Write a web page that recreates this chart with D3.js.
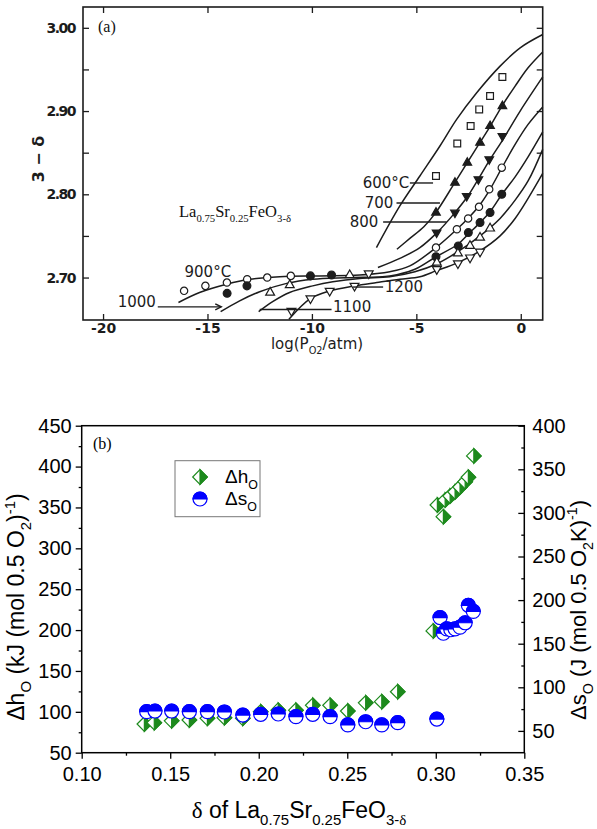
<!DOCTYPE html>
<html>
<head>
<meta charset="utf-8">
<script src="https://cdn.jsdelivr.net/npm/d3@7"></script>
<style>
  body { margin: 0; background: #fff; }
  svg { display: block; }
</style>
</head>
<body>
<svg id="chart" width="597" height="829"></svg>
<script>
// ---- panel (a): 3-delta vs log(PO2)
var curve600 = [[-6.91,2.736],[-5.79,2.786],[-4.83,2.822],[-3.87,2.858],[-3.07,2.890],[-2.11,2.922],[-0.99,2.954],[-0.03,2.976],[1.05,2.992]];
var curve700 = [[-5.93,2.734],[-5.31,2.747],[-4.64,2.761],[-4.07,2.778],[-3.16,2.814],[-2.59,2.837],[-1.96,2.862],[-1.48,2.881],[-0.90,2.906],[-0.27,2.930],[0.35,2.952],[1.05,2.971]];
var curve800 = [[-6.84,2.712],[-5.79,2.723],[-4.83,2.736],[-4.01,2.754],[-3.15,2.778],[-2.56,2.797],[-2.04,2.818],[-1.47,2.842],[-0.90,2.864],[-0.03,2.900],[1.05,2.941]];
var curve900 = [[-16.39,2.670],[-15.38,2.682],[-14.09,2.692],[-12.98,2.698],[-11.54,2.701],[-9.63,2.702],[-7.71,2.703],[-6.27,2.707],[-5.31,2.714],[-4.06,2.736],[-3.06,2.758],[-2.53,2.771],[-2.00,2.786],[-1.47,2.806],[-0.90,2.832],[-0.27,2.860],[0.35,2.884],[1.05,2.905]];
var curve1000 = [[-14.37,2.659],[-13.46,2.672],[-12.50,2.683],[-11.21,2.693],[-9.96,2.698],[-8.19,2.700],[-6.27,2.702],[-5.07,2.710],[-4.06,2.725],[-3.01,2.740],[-2.48,2.753],[-1.95,2.766],[-1.47,2.779],[-0.90,2.800],[-0.27,2.821],[0.35,2.845],[1.05,2.875]];
var curve1100 = [[-12.55,2.659],[-11.88,2.671],[-11.07,2.682],[-9.96,2.690],[-9.00,2.695],[-7.71,2.699],[-6.27,2.701],[-5.07,2.707],[-4.06,2.716],[-3.01,2.731],[-1.95,2.750],[-0.99,2.771],[-0.27,2.793],[0.35,2.816],[1.05,2.854]];
var curve1200 = [[-11.10,2.650],[-10.06,2.675],[-9.15,2.684],[-7.95,2.690],[-6.89,2.694],[-5.79,2.698],[-4.83,2.701],[-4.06,2.708],[-3.01,2.718],[-1.95,2.732],[-0.99,2.750],[-0.27,2.771],[0.35,2.795],[1.05,2.825]];

var pts600 = [[-4.06,2.822],[-3.04,2.861],[-2.40,2.882],[-1.99,2.902],[-1.47,2.918],[-0.88,2.941]];
var pts700 = [[-4.06,2.778],[-3.15,2.814],[-2.56,2.838],[-1.95,2.862],[-1.47,2.882],[-0.88,2.906]];
var pts800 = [[-4.03,2.754],[-3.15,2.778],[-2.59,2.798],[-2.03,2.818],[-1.51,2.842],[-0.88,2.870]];
var pts900 = [[-16.12,2.684],[-15.10,2.690],[-14.07,2.694],[-13.10,2.698],[-12.14,2.700],[-11.01,2.702],[-4.06,2.736],[-3.06,2.758],[-2.52,2.771],[-2.00,2.785],[-1.51,2.806],[-0.91,2.832]];
var pts1000 = [[-14.06,2.681],[-13.11,2.690],[-10.07,2.702],[-9.06,2.703],[-4.06,2.725],[-2.99,2.738],[-2.51,2.754],[-1.95,2.766],[-1.47,2.778],[-0.91,2.800]];
var pts1100 = [[-12.00,2.682],[-11.06,2.691],[-8.19,2.703],[-4.02,2.718],[-3.01,2.729],[-2.43,2.738],[-1.95,2.748],[-1.47,2.759]];
var pts1200 = [[-10.98,2.660],[-10.07,2.675],[-9.15,2.684],[-7.96,2.690],[-7.28,2.705],[-4.02,2.710],[-3.01,2.717],[-2.43,2.724],[-1.95,2.731]];

var xTicksA = [-20, -15, -10, -5, 0];
var yTicksA = [2.70, 2.75, 2.80, 2.85, 2.90, 2.95, 3.00];

// temperature labels: text start (x, y) and leader line x-range, in data units
var tempLabels = [
  { t: '600°C', x: -7.57, y: 2.8136, lead: [-5.31, -4.20] },
  { t: '700',   x: -7.47, y: 2.7896, lead: [-5.95, -3.87] },
  { t: '800',   x: -8.19, y: 2.7668, lead: [-6.59, -3.55] },
  { t: '900°C', x: -16.10, y: 2.7076, lead: null },
  { t: '1000',  x: -19.30, y: 2.6716, lead: [-17.38, -14.34], ly: 2.6648, arrow: true },
  { t: '1100',  x: -8.99, y: 2.6648, lead: [-12.50, -9.06], ly: 2.6616 },
  { t: '1200',  x: -6.51, y: 2.6896, lead: [-8.03, -6.59], ly: 2.6886 }
];

// ---- panel (b): partial molar enthalpy / entropy vs delta
var deltaH = [0.1354,0.141,0.1508,0.1608,0.171,0.1806,0.191,0.2011,0.211,0.221,0.2305,0.2403,0.2503,0.2604,0.2695,0.2785,0.2986,0.3009,0.3043,0.3053,0.3081,0.3109,0.3137,0.3166,0.3184,0.3215];
var hVals  = [85.1,86.7,89,90,92,92.8,92,100,102,102,108,108,101,111,112.4,124.6,199,353,338.7,359,364,369,375,381.5,387,413];
var deltaS = [0.1367,0.1414,0.1508,0.1608,0.171,0.1806,0.191,0.2011,0.211,0.221,0.2305,0.2403,0.2503,0.2604,0.2695,0.2785,0.3006,0.3024,0.3043,0.3062,0.3085,0.3109,0.3137,0.3166,0.3184,0.3212];
var sVals  = [72,72.8,72.8,72,72,71.7,68.2,69,69.4,66.3,69,66.3,56.8,60.5,56.8,59.4,63.6,180,162,167,166,167,169,174,194,187];

var xTicksB = [0.10, 0.15, 0.20, 0.25, 0.30, 0.35];
var xMinorB = [0.125, 0.175, 0.225, 0.275, 0.325];
var hTicks = [50, 100, 150, 200, 250, 300, 350, 400, 450];
var hMinor = [75, 125, 175, 225, 275, 325, 375, 425];
var sTicks = [50, 100, 150, 200, 250, 300, 350, 400];
var sMinor = [75, 125, 175, 225, 275, 325, 375];

var svg = d3.select('#chart');
var ink = '#1c1c1c';
var green = '#1d8a1d';
var blue = '#0000ff';

// append tspans with sub/superscripts; parts = [text, 'sub'|'sup'|null, fontFamily]
function rich(textSel, parts, size) {
  var shift = 0;
  parts.forEach(function (p) {
    var off = p[1] === 'sub' ? size * 0.3 : (p[1] === 'sup' ? -size * 0.4 : 0);
    var ts = textSel.append('tspan').attr('dy', off - shift).text(p[0]);
    if (p[1]) ts.attr('font-size', size * 0.65);
    if (p[2]) ts.attr('font-family', p[2]);
    shift = off;
  });
}

function noDomain(g) { g.select('.domain').remove(); }

// ================= panel (a)
var xA = d3.scaleLinear().domain([-20.96, 1.05]).range([83, 542.7]);
var yA = d3.scaleLinear().domain([2.649, 3.025]).range([320, 7]);
var ga = svg.append('g');

ga.append('rect')
  .attr('x', xA.range()[0]).attr('y', yA.range()[1])
  .attr('width', xA.range()[1] - xA.range()[0])
  .attr('height', yA.range()[0] - yA.range()[1])
  .attr('fill', 'none').attr('stroke', ink).attr('stroke-width', 1.6);

var axA = [
  ga.append('g').attr('transform', 'translate(0,' + yA.range()[0] + ')')
    .call(d3.axisBottom(xA).tickValues(xTicksA).tickSize(-6).tickPadding(3).tickFormat(function (d) { return String(d); })),
  ga.append('g').attr('transform', 'translate(0,' + yA.range()[1] + ')')
    .call(d3.axisTop(xA).tickValues(xTicksA).tickSize(-6).tickFormat('')),
  ga.append('g').attr('transform', 'translate(' + xA.range()[0] + ',0)')
    .call(d3.axisLeft(yA).tickValues(yTicksA).tickSize(-6).tickPadding(8)
      .tickFormat(function (d) { return Math.round(d * 100) % 10 === 0 ? d.toFixed(2) : ''; })),
  ga.append('g').attr('transform', 'translate(' + xA.range()[1] + ',0)')
    .call(d3.axisRight(yA).tickValues(yTicksA).tickSize(-6).tickFormat(''))
];
axA.forEach(function (g) {
  g.call(noDomain);
  g.attr('font-family', 'DejaVu Sans').attr('font-size', 14).attr('font-weight', 'bold');
  g.selectAll('line').attr('stroke', ink).attr('stroke-width', 1.3);
  g.selectAll('text').attr('fill', ink);
});
axA[2].selectAll('text').attr('letter-spacing', -1.5);

var lineA = d3.line()
  .x(function (d) { return xA(d[0]); })
  .y(function (d) { return yA(d[1]); })
  .curve(d3.curveCatmullRom.alpha(0.5));

[curve600, curve700, curve800, curve900, curve1000, curve1100, curve1200].forEach(function (c) {
  ga.append('path').attr('d', lineA(c))
    .attr('fill', 'none').attr('stroke', ink).attr('stroke-width', 1.5);
});

var markSets = [
  { pts: pts600, type: d3.symbolSquare, size: 46, fill: '#fff', rot: 0 },
  { pts: pts700, type: d3.symbolTriangle, size: 32, fill: ink, rot: 0 },
  { pts: pts800, type: d3.symbolTriangle, size: 32, fill: ink, rot: 180 },
  { pts: pts900, type: d3.symbolCircle, size: 42, fill: '#fff', rot: 0 },
  { pts: pts1000, type: d3.symbolCircle, size: 48, fill: ink, rot: 0 },
  { pts: pts1100, type: d3.symbolTriangle, size: 34, fill: '#fff', rot: 0 },
  { pts: pts1200, type: d3.symbolTriangle, size: 34, fill: '#fff', rot: 180 }
];
markSets.forEach(function (m) {
  ga.append('g').selectAll('path').data(m.pts).enter().append('path')
    .attr('d', d3.symbol().type(m.type).size(m.size))
    .attr('transform', function (d) { return 'translate(' + xA(d[0]) + ',' + yA(d[1]) + ') rotate(' + m.rot + ')'; })
    .attr('fill', m.fill).attr('stroke', ink).attr('stroke-width', 1.2);
});

tempLabels.forEach(function (l) {
  ga.append('text').attr('x', xA(l.x)).attr('y', yA(l.y)).attr('dy', '0.36em')
    .attr('font-family', 'DejaVu Sans').attr('font-size', 15).attr('fill', ink)
    .text(l.t);
  if (l.lead) {
    var ly = yA(l.ly !== undefined ? l.ly : l.y);
    ga.append('line')
      .attr('x1', xA(l.lead[0])).attr('x2', xA(l.lead[1]))
      .attr('y1', ly).attr('y2', ly)
      .attr('stroke', ink).attr('stroke-width', 1.4);
    if (l.arrow) {
      var ax = xA(l.lead[1]);
      ga.append('path').attr('d', 'M' + (ax - 6) + ',' + (ly - 3) + 'L' + ax + ',' + ly + 'L' + (ax - 6) + ',' + (ly + 3))
        .attr('fill', 'none').attr('stroke', ink).attr('stroke-width', 1.4);
    }
  }
});

ga.append('text').attr('x', 98).attr('y', 32)
  .attr('font-family', 'Liberation Serif').attr('font-size', 16).attr('fill', '#111').text('(a)');

var formA = ga.append('text').attr('x', 179).attr('y', 217)
  .attr('font-family', 'Liberation Serif').attr('font-size', 16.5).attr('fill', '#111');
rich(formA, [['La'], ['0.75', 'sub'], ['Sr'], ['0.25', 'sub'], ['FeO'], ['3-δ', 'sub']], 16.5);

var xTitleA = ga.append('text').attr('x', 317).attr('y', 349).attr('text-anchor', 'middle')
  .attr('font-family', 'DejaVu Sans').attr('font-size', 15).attr('fill', ink);
rich(xTitleA, [['log(P'], ['O2', 'sub'], ['/atm)']], 15);

ga.append('text').attr('transform', 'translate(44,159) rotate(-90)').attr('text-anchor', 'middle')
  .attr('font-family', 'DejaVu Sans').attr('font-size', 16).attr('font-weight', 'bold').attr('fill', ink)
  .text('3 − δ');

// ================= panel (b)
var xB = d3.scaleLinear().domain([0.10, 0.35]).range([81.7, 524.3]);
var yL = d3.scaleLinear().domain([50, 450]).range([752.7, 425.7]);
var yR = d3.scaleLinear().domain([25, 400]).range([752.7, 425.7]);
var gb = svg.append('g');

gb.append('rect')
  .attr('x', xB.range()[0]).attr('y', yL.range()[1])
  .attr('width', xB.range()[1] - xB.range()[0])
  .attr('height', yL.range()[0] - yL.range()[1])
  .attr('fill', 'none').attr('stroke', '#000').attr('stroke-width', 1.5);

var bottom = yL.range()[0], left = xB.range()[0], right = xB.range()[1];
var axB = [
  gb.append('g').attr('transform', 'translate(0,' + bottom + ')')
    .call(d3.axisBottom(xB).tickValues(xTicksB).tickSize(6).tickPadding(8).tickFormat(d3.format('.2f'))),
  gb.append('g').attr('transform', 'translate(0,' + bottom + ')')
    .call(d3.axisBottom(xB).tickValues(xMinorB).tickSize(3).tickFormat('')),
  gb.append('g').attr('transform', 'translate(' + left + ',0)')
    .call(d3.axisLeft(yL).tickValues(hTicks).tickSize(6).tickPadding(4)),
  gb.append('g').attr('transform', 'translate(' + left + ',0)')
    .call(d3.axisLeft(yL).tickValues(hMinor).tickSize(3).tickFormat('')),
  gb.append('g').attr('transform', 'translate(' + right + ',0)')
    .call(d3.axisRight(yR).tickValues(sTicks).tickSize(-6).tickPadding(8)),
  gb.append('g').attr('transform', 'translate(' + right + ',0)')
    .call(d3.axisRight(yR).tickValues(sMinor).tickSize(-3).tickFormat(''))
];
axB.forEach(function (g) {
  g.call(noDomain);
  g.attr('font-family', 'Liberation Sans').attr('font-size', 20);
  g.selectAll('line').attr('stroke', '#000').attr('stroke-width', 1.3);
  g.selectAll('text').attr('fill', '#000');
});

var hData = deltaH.map(function (d, i) { return [d, hVals[i]]; });
var sData = deltaS.map(function (d, i) { return [d, sVals[i]]; });
var r = 7.3, rc = 7;

function diamond(g) {
  g.append('path').attr('d', 'M0,' + (-r) + 'L' + r + ',0L0,' + r + 'L' + (-r) + ',0Z')
    .attr('fill', '#fff').attr('stroke', green).attr('stroke-width', 1.2);
  g.append('path').attr('d', 'M0,' + (-r) + 'L' + r + ',0L0,' + r + 'Z')
    .attr('fill', green).attr('stroke', green).attr('stroke-width', 1.2);
}
function halfCircle(g) {
  g.append('circle').attr('r', rc).attr('fill', '#fff').attr('stroke', blue).attr('stroke-width', 1.2);
  g.append('path').attr('d', 'M' + (-rc) + ',0A' + rc + ',' + rc + ' 0 0 1 ' + rc + ',0Z')
    .attr('fill', blue).attr('stroke', blue).attr('stroke-width', 1.2);
}

gb.append('g').selectAll('g').data(hData).enter().append('g')
  .attr('transform', function (d) { return 'translate(' + xB(d[0]) + ',' + yL(d[1]) + ')'; })
  .each(function () { diamond(d3.select(this)); });
gb.append('g').selectAll('g').data(sData).enter().append('g')
  .attr('transform', function (d) { return 'translate(' + xB(d[0]) + ',' + yR(d[1]) + ')'; })
  .each(function () { halfCircle(d3.select(this)); });

// legend
var lg = gb.append('g');
lg.append('rect').attr('x', 175).attr('y', 460.7).attr('width', 85).attr('height', 56)
  .attr('fill', '#fff').attr('stroke', '#777').attr('stroke-width', 1);
diamond(lg.append('g').attr('transform', 'translate(200,477)'));
halfCircle(lg.append('g').attr('transform', 'translate(200,499)'));
var lt1 = lg.append('text').attr('x', 225).attr('y', 483).attr('font-family', 'Liberation Sans').attr('font-size', 19);
rich(lt1, [['Δh'], ['O', 'sub']], 19);
var lt2 = lg.append('text').attr('x', 225).attr('y', 505).attr('font-family', 'Liberation Sans').attr('font-size', 19);
rich(lt2, [['Δs'], ['O', 'sub']], 19);

gb.append('text').attr('x', 93).attr('y', 449)
  .attr('font-family', 'Liberation Serif').attr('font-size', 16).text('(b)');

var yTitleL = gb.append('text').attr('transform', 'translate(24,607) rotate(-90)').attr('text-anchor', 'middle')
  .attr('font-family', 'Liberation Sans').attr('font-size', 23);
rich(yTitleL, [['Δh'], ['O', 'sub'], [' (kJ (mol 0.5 O'], ['2', 'sub'], [')'], ['-1', 'sup'], [')']], 23);

var yTitleR = gb.append('text').attr('transform', 'translate(586,610) rotate(-90)').attr('text-anchor', 'middle')
  .attr('font-family', 'Liberation Sans').attr('font-size', 22);
rich(yTitleR, [['Δs'], ['O', 'sub'], [' (J (mol 0.5 O'], ['2', 'sub'], ['K)'], ['-1', 'sup'], [')']], 22);

var xTitleB = gb.append('text').attr('x', 299).attr('y', 818).attr('text-anchor', 'middle')
  .attr('font-family', 'Liberation Sans').attr('font-size', 23);
rich(xTitleB, [['δ', null, 'Liberation Serif'], [' of La'], ['0.75', 'sub'], ['Sr'], ['0.25', 'sub'], ['FeO'], ['3-', 'sub'], ['δ', 'sub', 'Liberation Serif']], 23);
</script>
</body>
</html>
